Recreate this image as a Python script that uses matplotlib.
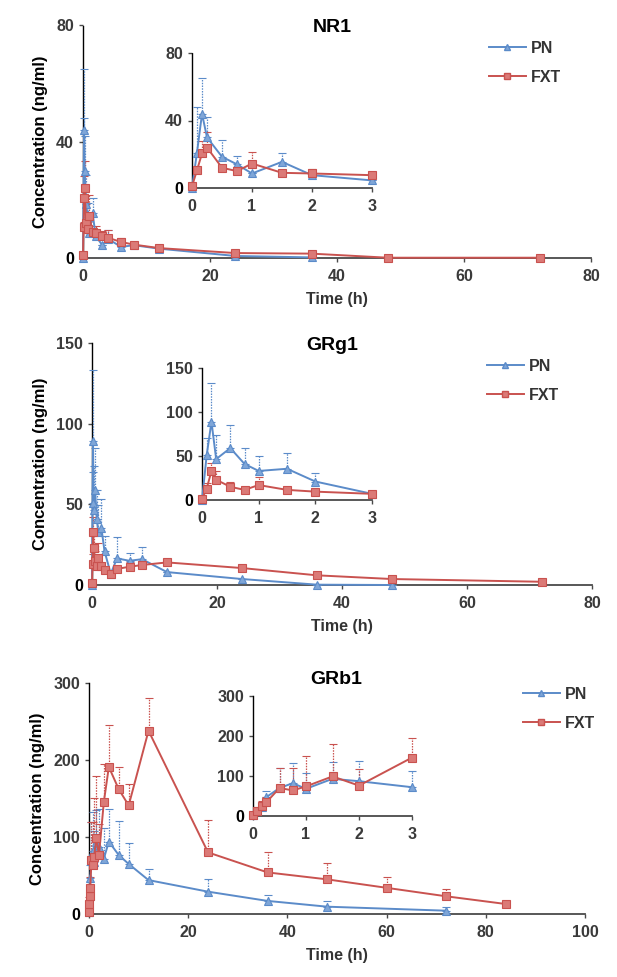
import matplotlib
matplotlib.use('Agg')
import matplotlib.pyplot as plt
from matplotlib.lines import Line2D

plt.rcParams['font.family'] = ['Liberation Sans', 'DejaVu Sans']
plt.rcParams['font.weight'] = 'bold'

# ---------------- data ----------------
# NR1
nr1_pn_t = [0, 0.083, 0.167, 0.25, 0.5, 0.75, 1, 1.5, 2, 3, 4, 6, 8, 12, 24, 36]
nr1_pn = [0, 21, 44, 30, 18.5, 14, 8.6, 15.5, 7.6, 4.5, 6.5, 3.8, 4.4, 3.2, 0.7, 0.2]
nr1_pn_err = [0, 27, 21, 12, 10, 5, 0, 5, 0, 0, 3, 0.5, 0.5, 0.3, 0, 0]
nr1_fxt_t = [0, 0.083, 0.167, 0.25, 0.5, 0.75, 1, 1.5, 2, 3, 4, 6, 8, 12, 24, 36, 48, 72]
nr1_fxt = [1, 10.5, 20.5, 24, 12, 10, 14.5, 9, 8.6, 7.6, 6.9, 5.5, 4.6, 3.4, 1.7, 1.5, 0.1, 0.1]
nr1_fxt_err = [0, 2, 7.5, 9.4, 1.5, 2.5, 7, 1, 2.4, 1.5, 2.6, 1.5, 1, 0.5, 0.4, 0.5, 0, 0]

# GRg1
grg1_pn_t = [0, 0.083, 0.167, 0.25, 0.5, 0.75, 1, 1.5, 2, 3, 4, 6, 8, 12, 24, 36, 48]
grg1_pn = [0, 51, 89, 46.5, 59, 41, 33, 35.5, 21, 7, 16.5, 15, 16, 8, 3.7, 0.2, 0]
grg1_pn_err = [0, 19, 44, 27, 26, 18, 16.5, 18, 9.5, 0, 13.5, 5, 7.7, 0, 0, 0, 0]
grg1_fxt_t = [0, 0.083, 0.167, 0.25, 0.5, 0.75, 1, 1.5, 2, 3, 4, 6, 8, 12, 24, 36, 48, 72]
grg1_fxt = [1, 13, 33, 23, 15, 11.5, 17, 11.5, 9.5, 7, 10, 11.3, 12.4, 14, 10.5, 6, 3.7, 2]
grg1_fxt_err = [0, 6, 9, 9.4, 6, 2, 9, 1.5, 1.5, 1, 2, 3, 2.6, 1, 0.7, 0.8, 0.5, 0.5]

# GRb1
grb1_pn_t = [0, 0.083, 0.167, 0.25, 0.5, 0.75, 1, 1.5, 2, 3, 4, 6, 8, 12, 24, 36, 48, 72]
grb1_pn = [2.5, 12, 23, 47, 70, 82, 68, 93, 87, 72, 94, 76.5, 65, 44, 29, 17, 9.5, 4.3]
grb1_pn_err = [0, 3, 8, 16.5, 50, 50, 40, 42, 50, 40, 43, 44.5, 26.7, 15, 16, 7.6, 7.5, 4.4]
grb1_fxt_t = [0, 0.083, 0.167, 0.25, 0.5, 0.75, 1, 1.5, 2, 3, 4, 6, 8, 12, 24, 36, 48, 60, 72, 84]
grb1_fxt = [2.5, 13, 24, 34, 70, 64, 74, 99, 76, 146, 191, 162, 141, 238, 80, 54, 45, 34, 23, 13]
grb1_fxt_err = [0, 9, 14, 14.5, 50, 56, 77, 80, 41, 49, 54, 29, 28, 42, 42, 27, 21, 14, 10, 0]

series_labels = ['PN', 'FXT']
titles = ['NR1', 'GRg1', 'GRb1']

# ---------------- style ----------------
BLUE = '#5B8BC9'
BLUE_F = '#7FA6D8'
RED = '#C9524F'
RED_F = '#DB7A77'
FS = 11.5

fig = plt.figure(figsize=(6.17, 9.77), dpi=100)
W, H = 617.0, 977.0


def px_axes(x0, y0, x1, y1):
    return fig.add_axes([x0 / W, 1 - y1 / H, (x1 - x0) / W, (y1 - y0) / H])


def draw_series(ax, t, v, e, color, fcolor, marker, ms, tmax=None):
    if tmax is not None:
        keep = [k for k, tt in enumerate(t) if tt <= tmax]
        t = [t[k] for k in keep]
        v = [v[k] for k in keep]
        e = [e[k] for k in keep]
    eb = ax.errorbar(t, v, yerr=[[0] * len(e), e], color=color, lw=1.4,
                     marker=marker, ms=ms, mfc=fcolor, mec=color, mew=0.8,
                     ecolor=color, elinewidth=0.9, capsize=3, capthick=0.9,
                     clip_on=False, zorder=3)
    for c in eb[2]:
        c.set_linestyle((0, (1.2, 1.0)))
        c.set_clip_on(False)
    for c in eb[1]:
        c.set_clip_on(False)
    return eb


def style_axes(ax, xlim, xticks, ylim, yticks):
    ax.set_xlim(*xlim)
    ax.set_ylim(*ylim)
    ax.set_xticks(xticks, [str(x) for x in xticks])
    ax.set_yticks(yticks, [str(y) for y in yticks])
    for s in ['top', 'right']:
        ax.spines[s].set_visible(False)
    ax.spines['left'].set_linestyle((0, (1, 1)))
    ax.spines['left'].set_color('black')
    ax.spines['left'].set_linewidth(1.0)
    ax.spines['bottom'].set_color('#4a4a4a')
    ax.spines['bottom'].set_linewidth(1.3)
    ax.tick_params(axis='both', length=3, width=1, color='#4a4a4a',
                   labelsize=FS, labelcolor='#3a3a3a')
    ax.tick_params(axis='x', pad=5)
    ax.patch.set_alpha(0)
    for lab in ax.get_xticklabels() + ax.get_yticklabels():
        lab.set_fontweight('bold')
    ax.get_yticklabels()[0].set_color('black')


panels = [
    dict(pn=(nr1_pn_t, nr1_pn, nr1_pn_err), fxt=(nr1_fxt_t, nr1_fxt, nr1_fxt_err),
         main=(83, 25, 591, 258), inset=(192, 53, 372, 188),
         xlim=(0, 80), xticks=[0, 20, 40, 60, 80], ylim=(0, 80), yticks=[0, 40, 80],
         title=(332, 28), leg=(489, 41)),
    dict(pn=(grg1_pn_t, grg1_pn, grg1_pn_err), fxt=(grg1_fxt_t, grg1_fxt, grg1_fxt_err),
         main=(92, 343, 592, 585), inset=(202, 368, 372, 500),
         xlim=(0, 80), xticks=[0, 20, 40, 60, 80], ylim=(0, 150), yticks=[0, 50, 100, 150],
         title=(332, 346), leg=(487, 359)),
    dict(pn=(grb1_pn_t, grb1_pn, grb1_pn_err), fxt=(grb1_fxt_t, grb1_fxt, grb1_fxt_err),
         main=(89, 683, 585, 914), inset=(253, 696, 412, 816),
         xlim=(0, 100), xticks=[0, 20, 40, 60, 80, 100], ylim=(0, 300), yticks=[0, 100, 200, 300],
         title=(336, 680), leg=(523, 687)),
]

for i, p in enumerate(panels):
    ax = px_axes(*p['main'])
    draw_series(ax, *p['pn'], BLUE, BLUE_F, '^', 6)
    draw_series(ax, *p['fxt'], RED, RED_F, 's', 6)
    style_axes(ax, p['xlim'], p['xticks'], p['ylim'], p['yticks'])
    ax.set_xlabel('Time (h)', fontsize=FS, fontweight='bold', color='#333333', labelpad=6)
    ax.set_ylabel('Concentration (ng/ml)', fontsize=FS + 0.5, fontweight='bold', color='black',
                  labelpad=6)

    ins = px_axes(*p['inset'])
    draw_series(ins, *p['pn'], BLUE, BLUE_F, '^', 6, tmax=3)
    draw_series(ins, *p['fxt'], RED, RED_F, 's', 6, tmax=3)
    style_axes(ins, (0, 3), [0, 1, 2, 3], p['ylim'], p['yticks'])

    fig.text(p['title'][0] / W, 1 - p['title'][1] / H, titles[i], ha='center', va='center',
             fontsize=14, fontweight='bold', color='black')

    handles = [Line2D([], [], color=BLUE, lw=1.4, marker='^', ms=5, mfc=BLUE_F, mec=BLUE),
               Line2D([], [], color=RED, lw=1.4, marker='s', ms=5, mfc=RED_F, mec=RED)]
    leg = ax.legend(handles, series_labels, loc='upper left',
                    bbox_to_anchor=(p['leg'][0] / W, 1 - p['leg'][1] / H),
                    bbox_transform=fig.transFigure, frameon=False, fontsize=FS,
                    handlelength=2.3, handletextpad=0.3, labelspacing=0.85,
                    borderpad=0, borderaxespad=0)
    for t in leg.get_texts():
        t.set_fontweight('bold')
        t.set_color('#333333')

fig.savefig('out.png', dpi=100)
